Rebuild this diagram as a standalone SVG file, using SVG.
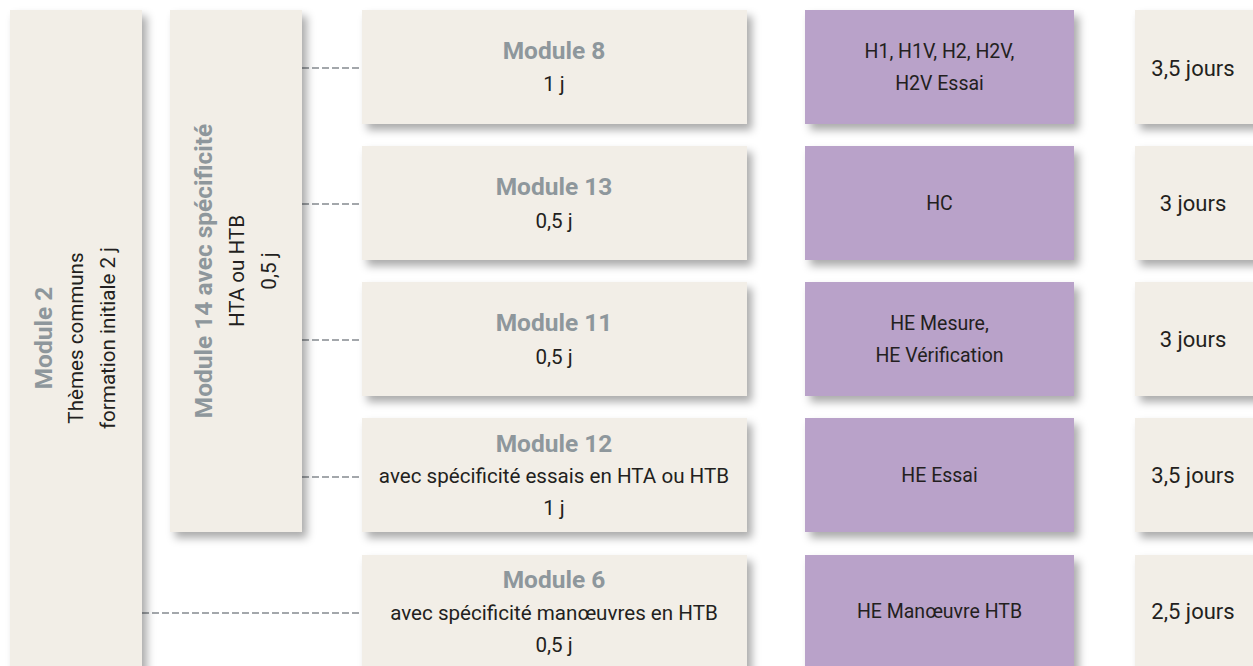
<svg xmlns="http://www.w3.org/2000/svg" width="1253" height="666" viewBox="0 0 1253 666">
<defs>
<filter id="sh" x="-10%" y="-10%" width="130%" height="140%">
<feDropShadow dx="5" dy="6" stdDeviation="4" flood-color="#000" flood-opacity="0.33"/>
</filter>
<style>
.box{fill:#f2eee7;filter:url(#sh)}
.pur{fill:#b9a2c9;filter:url(#sh)}
text{font-family:Roboto,"Liberation Sans",sans-serif;text-anchor:middle;fill:#231f20;font-size:20.6px}
.t{font-weight:bold;font-size:24.5px;fill:#8e979c}
.p{font-size:19.5px}
.j{font-size:22px}
.d{fill:none;stroke:#a3a7ab;stroke-width:2;stroke-dasharray:7 3}
</style>
</defs>
<rect width="1253" height="666" fill="#fff"/>
<g id="connectors">
<line class="d" x1="302" y1="68" x2="362" y2="68"/>
<line class="d" x1="302" y1="204" x2="362" y2="204"/>
<line class="d" x1="302" y1="340" x2="362" y2="340"/>
<line class="d" x1="302" y1="477" x2="362" y2="477"/>
<line class="d" x1="142" y1="613" x2="362" y2="613"/>
</g>
<g id="module2">
<rect class="box" x="10" y="10" width="132" height="670"/>
<text class="t" transform="translate(52,338) rotate(-90)">Module 2</text>
<text transform="translate(83,338) rotate(-90)">Thèmes communs</text>
<text transform="translate(115,338) rotate(-90)">formation initiale 2 j</text>
</g>
<g id="module14">
<rect class="box" x="170" y="10" width="132" height="522"/>
<text class="t" transform="translate(212,271) rotate(-90)">Module 14 avec spécificité</text>
<text transform="translate(244,271) rotate(-90)">HTA ou HTB</text>
<text transform="translate(276,271) rotate(-90)">0,5 j</text>
</g>
<g id="module8">
<rect class="box" x="362" y="10" width="385" height="114"/>
<text class="t" x="554" y="59">Module 8</text>
<text x="554" y="91">1 j</text>
</g>
<g id="module13">
<rect class="box" x="362" y="146" width="385" height="114"/>
<text class="t" x="554" y="195">Module 13</text>
<text x="554" y="228">0,5 j</text>
</g>
<g id="module11">
<rect class="box" x="362" y="282" width="385" height="114"/>
<text class="t" x="554" y="331">Module 11</text>
<text x="554" y="364">0,5 j</text>
</g>
<g id="module12">
<rect class="box" x="362" y="418" width="385" height="114"/>
<text class="t" x="554" y="452">Module 12</text>
<text x="554" y="483">avec spécificité essais en HTA ou HTB</text>
<text x="554" y="515">1 j</text>
</g>
<g id="module6">
<rect class="box" x="362" y="555" width="385" height="125"/>
<text class="t" x="554" y="588">Module 6</text>
<text x="554" y="620">avec spécificité manœuvres en HTB</text>
<text x="554" y="652">0,5 j</text>
</g>
<g id="hab1">
<rect class="pur" x="805" y="10" width="269" height="114"/>
<text class="p" x="939.5" y="58">H1, H1V, H2, H2V,</text>
<text class="p" x="939.5" y="90">H2V Essai</text>
</g>
<g id="hab2">
<rect class="pur" x="805" y="146" width="269" height="114"/>
<text class="p" x="939.5" y="210">HC</text>
</g>
<g id="hab3">
<rect class="pur" x="805" y="282" width="269" height="114"/>
<text class="p" x="939.5" y="330">HE Mesure,</text>
<text class="p" x="939.5" y="362">HE Vérification</text>
</g>
<g id="hab4">
<rect class="pur" x="805" y="418" width="269" height="114"/>
<text class="p" x="939.5" y="482">HE Essai</text>
</g>
<g id="hab5">
<rect class="pur" x="805" y="555" width="269" height="125"/>
<text class="p" x="939.5" y="618">HE Manœuvre HTB</text>
</g>
<g id="dur1">
<rect class="box" x="1135" y="10" width="130" height="114"/>
<text class="j" x="1193" y="76">3,5 jours</text>
</g>
<g id="dur2">
<rect class="box" x="1135" y="146" width="130" height="114"/>
<text class="j" x="1193" y="211">3 jours</text>
</g>
<g id="dur3">
<rect class="box" x="1135" y="282" width="130" height="114"/>
<text class="j" x="1193" y="347">3 jours</text>
</g>
<g id="dur4">
<rect class="box" x="1135" y="418" width="130" height="114"/>
<text class="j" x="1193" y="483">3,5 jours</text>
</g>
<g id="dur5">
<rect class="box" x="1135" y="555" width="130" height="125"/>
<text class="j" x="1193" y="619">2,5 jours</text>
</g>
</svg>
